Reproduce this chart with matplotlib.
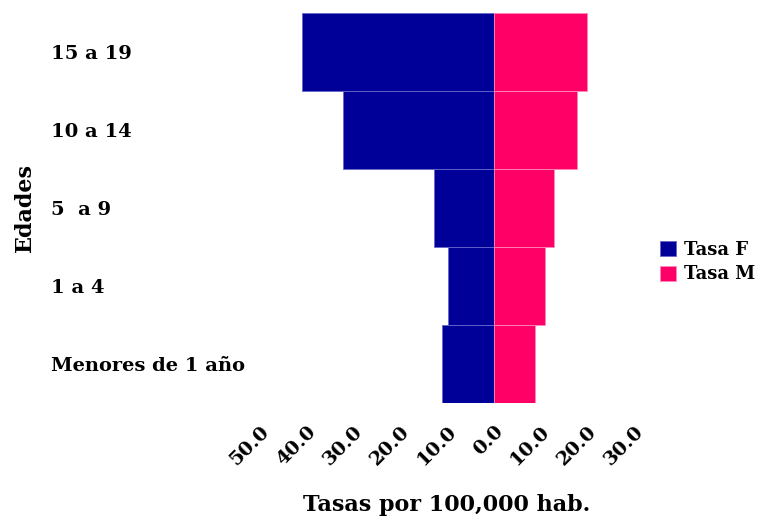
import numpy as np
import matplotlib.pyplot as plt
from matplotlib.ticker import FixedLocator

# Data (rates per 100,000)
edades = ['Menores de 1 año', '1 a 4', '5  a 9', '10 a 14', '15 a 19']
tasa_f = [11.0, 9.7, 12.8, 32.3, 41.0]
tasa_m = [8.8, 11.0, 12.8, 17.8, 19.9]
xticks = [-50, -40, -30, -20, -10, 0, 10, 20, 30]

color_f = '#000099'
color_m = '#FF0066'

plt.rcParams['font.family'] = ['DejaVu Serif']
plt.rcParams['font.weight'] = 'bold'

fig = plt.figure(figsize=(7.64, 5.16), dpi=100)
ax = fig.add_axes([0.340, 0.219, 0.490, 0.756])

y = np.arange(len(edades))
ax.barh(y, [-v for v in tasa_f], height=1.0, color=color_f,
        edgecolor='#6666cc', linewidth=0.6, label='Tasa F')
ax.barh(y, tasa_m, height=1.0, color=color_m,
        edgecolor='#ff88bb', linewidth=0.6, label='Tasa M')

ax.set_xlim(-50, 30)
ax.set_ylim(-0.5, len(edades) - 0.5)
ax.xaxis.set_major_locator(FixedLocator(xticks))
ax.set_xticklabels([f'{abs(t):.1f}' for t in xticks], rotation=45,
                   ha='right', rotation_mode='anchor', fontsize=14,
                   fontweight='bold')
ax.set_yticks(y)
ax.set_yticklabels(edades, ha='left', fontsize=14, fontweight='bold')
ax.tick_params(axis='y', length=0, pad=150)
ax.tick_params(axis='x', length=0, pad=14)
for s in ax.spines.values():
    s.set_visible(False)

ax.set_xlabel('Tasas por 100,000 hab.', fontsize=16, fontweight='bold',
              labelpad=18)
fig.text(0.033, 0.597, 'Edades', rotation=90, ha='center', va='center',
         fontsize=16, fontweight='bold')

fig.legend(loc='center left', bbox_to_anchor=(0.864, 0.492), frameon=False,
           fontsize=13, handlelength=0.9, handleheight=0.9,
           handletextpad=0.4, labelspacing=0.35, borderpad=0,
           borderaxespad=0)

fig.savefig('out.png', dpi=100)
